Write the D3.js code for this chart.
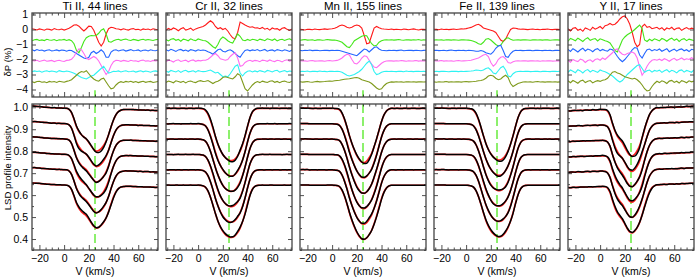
<!DOCTYPE html>
<html>
<head>
<meta charset="utf-8">
<script src="https://cdn.jsdelivr.net/npm/d3@7"></script>
<style>
  body { margin: 0; background: #fff; }
  text { font-family: "Liberation Sans", Arial, sans-serif; fill: #000; }
</style>
</head>
<body>
<svg id="chart" width="695" height="277"></svg>
<script>
// velocity grid (km/s) shared by every curve
var velocity = d3.range(-26, 77, 2);

var panelTitles = ["Ti II, 44 lines", "Cr II, 32 lines", "Mn II, 155 lines", "Fe II, 139 lines", "Y II, 17 lines"];
var phaseColors = ["#ff1a1a", "#44e61a", "#2466ff", "#ff6ef0", "#2ef2f2", "#7f9a1c"];
var dpOffsets = [0, -0.7, -1.4, -2.1, -2.8, -3.5];
var profileOffsets = [0, -0.07, -0.14, -0.21, -0.28, -0.35];
var dpTicks = [1, 0, -1, -2, -3, -4];
var intensityTicks = [0.4, 0.5, 0.6, 0.7, 0.8, 0.9, 1.0];
var velocityTicks = [-20, 0, 20, 40, 60];
var vCentre = 25;

// mean LSD profiles
var tiProfile = [1.005,1.005,1.004,1.003,1.002,1.001,1.0,0.999,0.998,0.998,0.997,0.997,0.996,0.996,0.995,0.990,
  0.975,0.945,0.912,0.89,0.875,0.865,0.855,0.84,0.823,0.808,0.80,0.803,0.812,0.826,0.846,0.875,0.91,0.942,0.966,0.98,0.987,
  0.989,0.99,0.99,0.99,0.989,0.989,0.988,0.988,0.987,0.987,0.987,0.986,0.986,0.985,0.985];
var crProfile = [0.995,0.995,0.995,0.995,0.995,0.995,0.995,0.995,0.995,0.995,0.995,0.995,0.995,0.995,0.994,0.992,
  0.985,0.968,0.94,0.905,0.866,0.832,0.805,0.785,0.771,0.762,0.757,0.758,0.765,0.779,0.8,0.83,0.868,0.912,0.952,0.978,0.99,
  0.994,0.995,0.995,0.995,0.995,0.995,0.995,0.995,0.995,0.995,0.995,0.995,0.995,0.995,0.995];
var mnProfile = [0.996,0.996,0.996,0.996,0.995,0.995,0.995,0.995,0.995,0.995,0.995,0.995,0.995,0.995,0.994,0.993,
  0.988,0.972,0.945,0.91,0.87,0.835,0.805,0.78,0.762,0.75,0.748,0.755,0.77,0.79,0.82,0.855,0.895,0.935,0.965,0.983,0.992,
  0.995,0.995,0.995,0.995,0.995,0.995,0.995,0.995,0.995,0.995,0.995,0.995,0.995,0.995,0.995];
var feProfile = [0.996,0.996,0.996,0.996,0.996,0.995,0.995,0.995,0.995,0.995,0.995,0.995,0.995,0.995,0.994,0.992,
  0.986,0.97,0.943,0.908,0.87,0.835,0.808,0.788,0.774,0.765,0.76,0.761,0.768,0.782,0.803,0.833,0.87,0.913,0.952,0.978,0.99,
  0.994,0.995,0.995,0.995,0.995,0.995,0.995,0.995,0.995,0.995,0.995,0.995,0.995,0.995,0.995];
var yProfile = [0.984,0.984,0.985,0.985,0.986,0.986,0.986,0.987,0.987,0.987,0.988,0.988,0.988,0.989,0.989,0.988,
  0.982,0.962,0.925,0.892,0.868,0.852,0.838,0.818,0.797,0.782,0.778,0.786,0.802,0.826,0.86,0.9,0.937,0.966,0.984,0.993,0.997,
  0.998,0.998,0.999,0.999,1.0,1.0,1.0,1.001,1.001,1.002,1.002,1.003,1.003,1.004,1.004];

// profile deviations dP (%) per phase, before stacking offsets
var tiDP = [
  [0.05,0.02,-0.03,0.04,0,-0.05,0.03,0.01,-0.04,0.06,0,-0.02,0.03,-0.04,0.02,0.08,
   0.18,0.3,0.32,0.22,0.05,-0.1,0.05,0.22,0.2,-0.05,-0.45,-0.85,-1.1,-0.85,-0.3,0.05,0.15,0.12,0.05,
   0.03,-0.02,0.05,0,-0.04,0.03,0.06,-0.01,0.02,-0.05,0.04,0,0.03,-0.03,0.05,0.02,0],
  [-0.05,0.02,0.04,-0.03,0.01,-0.04,0.05,0,-0.02,0.03,-0.05,0.02,0,0.04,-0.03,0.02,
   -0.05,-0.25,-0.7,-0.85,-0.5,-0.1,0.15,0.25,0.3,0.28,0.3,0.45,0.65,0.75,0.4,-0.1,-0.15,-0.05,0.02,
   0.05,-0.02,0.03,0.06,0,-0.03,0.04,0.01,-0.04,0.02,0.05,-0.01,0.03,0,-0.03,0.02,0.04],
  [0.05,-0.02,0.06,0,0.03,-0.04,0.02,0.05,-0.03,0,0.04,-0.02,0.03,0.01,-0.05,0.02,
   0,-0.1,-0.2,-0.3,-0.4,-0.5,-0.55,-0.45,-0.15,-0.05,-0.2,-0.1,0.05,-0.1,-0.45,-0.45,-0.1,0.02,0.05,
   -0.03,0.02,0.05,-0.04,0.01,0.06,-0.02,0,0.04,-0.05,0.02,0.03,-0.03,0.05,0,-0.02,0.03],
  [0.03,0,0.05,-0.03,0.02,0.06,-0.02,0.01,0.04,-0.04,0.02,0.05,0,-0.03,0.04,0.06,
   0.12,0.3,0.6,0.8,0.75,0.5,0.2,0.1,0.2,0.3,0.2,0,-0.3,-0.6,-0.9,-0.7,-0.3,-0.05,0.05,
   0.03,-0.02,0.04,0.01,-0.03,0.05,0,0.02,-0.04,0.03,0.06,-0.01,0.02,-0.03,0.04,0,0.03],
  [-0.02,0.04,0,0.03,-0.05,0.02,0.05,-0.01,0.03,0,-0.04,0.06,0.01,-0.02,0.03,0,
   -0.05,-0.12,-0.2,-0.3,-0.4,-0.45,-0.5,-0.4,-0.3,-0.25,-0.1,0.05,0.2,0.35,0.1,-0.1,-0.05,0.02,0,
   0.04,-0.03,0.02,0.05,-0.02,0,0.03,-0.04,0.01,0.05,-0.02,0.03,0,-0.05,0.02,0.04,-0.01],
  [0.02,-0.04,0.03,0.05,-0.02,0.01,-0.05,0.04,0,0.03,-0.03,0.05,0.02,-0.02,0.04,0.08,
   0.15,0.3,0.45,0.6,0.7,0.65,0.75,0.55,0.35,0.2,0.1,0.05,0.2,0.25,0,-0.25,-0.45,-0.4,-0.2,
   -0.05,0.02,-0.03,0.04,0,0.05,-0.02,0.03,-0.04,0.01,0.05,-0.02,0.02,0.04,-0.03,0,0.03]
];
var crDP = [
  [-0.05,0.08,-0.02,0.1,0.03,-0.08,0.05,0.12,-0.04,0.02,0.09,-0.06,0.04,0.1,0.15,0.2,
   0.3,0.45,0.58,0.45,0.2,0.05,0.12,0,0.08,-0.1,-0.35,-0.55,-0.62,-0.2,0.5,0.4,0.3,0.22,0.15,0.18,0.1,
   0.12,0.05,0.14,0.02,0.08,-0.04,0.1,0.03,0.06,-0.05,0.08,0.12,0.01,-0.06,0.04],
  [0.03,-0.06,0.05,0.09,-0.02,0.04,-0.08,0.06,0.02,-0.05,0.08,0,-0.04,0.07,0.02,-0.03,
   -0.05,-0.15,-0.3,-0.45,-0.55,-0.3,0.05,0.2,0.1,-0.05,-0.15,-0.2,0.1,0.4,0.25,0,-0.05,0.04,-0.03,0.05,0.02,
   -0.04,0.06,0.01,-0.05,0.08,0.03,-0.02,0.07,-0.06,0.02,0.05,-0.03,0.04,0.08,-0.01],
  [0.05,-0.03,0.08,0.01,-0.06,0.04,0.07,-0.02,0.03,-0.05,0.06,0.02,-0.04,0.05,0,0.03,
   0,-0.08,-0.15,-0.25,-0.1,0.05,0.1,-0.05,-0.1,0,0.05,-0.05,-0.2,-0.35,-0.45,-0.2,0,0.05,-0.02,0.04,0,
   0.06,-0.03,0.02,0.07,-0.05,0.01,0.04,-0.04,0.06,0.02,-0.03,0.05,0,-0.06,0.03],
  [-0.04,0.05,0.02,-0.07,0.04,0.08,-0.03,0.02,0.06,-0.05,0.03,0.07,-0.02,0.04,0.01,0.05,
   0.05,0.12,0.25,0.4,0.5,0.35,0.15,0.1,0.05,0.1,0.3,0.45,0.55,0.2,-0.35,-0.3,-0.1,0,0.05,-0.02,0.04,
   0.02,-0.05,0.06,0.03,-0.02,0.07,0,-0.04,0.05,0.02,-0.06,0.04,0.08,-0.01,0.03],
  [0.04,-0.05,0.07,0.02,-0.03,0.06,-0.06,0.03,0.08,-0.02,0.01,0.05,-0.04,0.06,0.02,-0.01,
   0,0.05,0.1,0,-0.1,-0.05,-0.2,-0.35,-0.3,-0.35,-0.15,0.1,0.35,0.45,-0.1,-0.3,-0.1,0.02,0.05,-0.03,0.04,
   -0.02,0.06,0.01,-0.05,0.07,0.03,-0.03,0.05,0.08,-0.04,0.02,0.06,-0.02,0.03,0.01],
  [-0.03,0.06,0.02,-0.05,0.08,0.03,-0.02,0.05,-0.06,0.04,0.07,0,-0.04,0.05,0.09,0.03,
   0.05,0.1,0,-0.1,0,0.05,0.15,0.3,0.35,0.3,0.25,0.2,0.35,0.55,0.45,0,-0.45,-0.6,-0.4,-0.2,-0.05,
   0.03,-0.04,0.06,0.01,-0.03,0.05,0.08,-0.02,0.04,-0.05,0.03,0.06,0,-0.03,0.05]
];
var mnDP = [
  [0.02,0,-0.03,0.02,0.01,-0.02,0.03,0,-0.01,0.02,0.04,0.01,0.03,0.05,0.08,0.15,
   0.25,0.3,0.25,0.15,0.1,0.15,0.25,0.3,0.25,0.1,-0.4,-0.95,-0.9,-0.4,0.1,0.2,0.12,0.05,0.03,0.02,0,
   0.03,-0.01,0.02,0,-0.02,0.03,0.01,-0.02,0.02,0.04,0,-0.03,0.01,0.02,0],
  [-0.02,0.01,0.03,-0.01,0,0.02,-0.03,0.01,0.02,-0.02,0,0.03,0.01,-0.01,0,-0.03,
   -0.08,-0.15,-0.3,-0.45,-0.5,-0.3,-0.05,0.05,0.15,0.25,0.3,0.28,0,-0.25,-0.4,-0.35,-0.15,-0.05,0,0.02,0,
   0.02,-0.01,0.01,0.03,0,-0.02,0.02,0.01,-0.01,0.02,0,0.03,-0.02,0.01,0],
  [0.01,-0.02,0.02,0,0.03,-0.01,0.01,0.02,-0.02,0,0.02,0.01,-0.01,0.02,0,0.01,
   0,-0.05,-0.1,-0.15,-0.2,-0.25,-0.3,-0.35,-0.2,-0.05,0.1,0.05,-0.1,0.05,0.2,0.25,0.1,0.02,0,-0.02,0.01,
   0,0.02,-0.01,0.01,0.03,-0.02,0,0.02,0.01,-0.01,0.02,0,-0.02,0.01,0.02],
  [0.02,0,0.01,-0.02,0.02,0.03,-0.01,0,0.02,0.01,-0.02,0.02,0.03,0,0.02,0.04,
   0.1,0.2,0.35,0.45,0.4,0.1,-0.15,-0.2,-0.05,0.2,0.35,0.3,0.05,-0.2,-0.4,-0.45,-0.3,-0.15,-0.05,0,0.02,
   0.01,-0.01,0.02,0,0.03,0.01,-0.02,0.02,0,0.01,0.03,-0.01,0.02,0,0.01],
  [-0.01,0.02,0,0.03,-0.02,0.01,0.02,-0.01,0.03,0,0.01,-0.02,0.02,0.01,0,0.02,
   0,-0.05,-0.15,-0.25,-0.3,-0.25,-0.2,-0.1,0,0.15,0.35,0.55,0.7,0.45,0,-0.2,-0.15,-0.05,0,0.02,0,
   0.02,0,-0.01,0.02,0.01,-0.02,0.03,0,0.01,-0.01,0.02,0.01,0,0.02,-0.01],
  [0.02,-0.01,0.01,0.03,0,-0.02,0.02,0.04,0.01,0.02,0.03,0.05,0.06,0.05,0.08,0.1,
   0.12,0.15,0.18,0.2,0.22,0.25,0.28,0.3,0.25,0.15,0.1,0.05,0,-0.1,-0.25,-0.4,-0.5,-0.45,-0.25,-0.1,-0.03,
   0.01,-0.01,0.02,0,0.01,-0.02,0.02,0.01,0,0.02,-0.01,0.01,0.02,0,0.01]
];
var feDP = [
  [0.02,0.01,-0.02,0.03,0,0.02,-0.01,0.01,0.03,0,0.02,0.04,0.03,0.06,0.1,0.14,
   0.22,0.3,0.35,0.25,0.1,0.05,0,-0.05,-0.1,-0.2,-0.45,-0.7,-0.8,-0.65,-0.3,0,0.1,0.08,0.04,0.02,0.03,
   0.01,-0.01,0.02,0.03,0,0.01,-0.02,0.02,0.01,0.03,0,-0.01,0.02,0.01,0],
  [-0.01,0.02,0,0.01,-0.02,0.02,0.01,-0.01,0.02,0,-0.02,0.01,0.02,0,-0.01,-0.03,
   -0.08,-0.15,-0.25,-0.3,-0.15,0.05,0.1,0,-0.15,-0.3,-0.4,-0.35,-0.1,0.1,0.15,0.05,-0.02,0,0.02,-0.01,0.01,
   0.02,0,-0.02,0.01,0.02,0,0.01,-0.01,0.02,0.01,-0.02,0,0.02,0.01,-0.01],
  [0.01,0.02,-0.01,0,0.02,-0.02,0.01,0.03,0,-0.01,0.02,0,0.01,-0.02,0.02,0,
   -0.02,-0.05,-0.05,0,-0.05,-0.15,-0.2,-0.25,-0.1,0.15,0.3,0.35,0,-0.4,-0.45,-0.2,-0.05,0.02,0,0.01,-0.01,
   0,0.02,0.01,-0.02,0.01,0.02,0,-0.01,0.02,0,0.01,-0.02,0.01,0.02,0],
  [0.02,0,0.01,0.03,-0.01,0.02,0,0.01,-0.02,0.02,0.03,0,0.01,0.02,0.03,0.05,
   0.1,0.15,0.2,0.3,0.4,0.45,0.3,-0.1,-0.35,-0.2,0.1,0.25,0.3,0.15,-0.1,-0.15,-0.05,0,0.02,0,0.01,
   0.02,-0.01,0.01,0.02,0,0.01,-0.02,0.02,0,0.01,0.02,-0.01,0,0.02,0.01],
  [0,0.02,-0.01,0.01,0.02,0,-0.02,0.01,0.02,0.01,-0.01,0.02,0,0.01,0.02,0.03,
   0.05,0.1,0.08,0.05,0.1,0.2,0.25,0.1,-0.1,-0.15,0.05,0.25,0.35,0.1,-0.3,-0.35,-0.15,-0.03,0,0.02,0,
   0.01,0.02,-0.01,0,0.02,0.01,-0.02,0.01,0.02,0,-0.01,0.02,0.01,0,0.02],
  [0.01,-0.02,0.02,0,0.01,0.03,-0.01,0.02,0,0.01,0.02,-0.01,0.02,0.03,0.01,0.02,
   0.03,0.05,0.08,0.1,0.15,0.25,0.4,0.45,0.4,0.25,0.15,0.2,0.35,0.45,0.3,-0.1,-0.3,-0.2,-0.1,-0.05,0,
   0.02,0,0.01,-0.02,0.02,0.03,0,0.01,-0.01,0.02,0.01,0,0.02,-0.01,0.01]
];
var yDP = [
  [0.05,-0.1,0.08,0.12,-0.05,0.02,-0.12,0.1,0.04,-0.06,0.15,0.02,0.1,0.2,0.05,0.25,
   0.3,0.4,0.3,0.35,0.5,0.7,0.85,0.9,0.7,0.35,-0.2,-0.85,-1.15,-1.0,0.2,0.35,0.15,0.2,0.05,0.1,0.15,
   0.02,0.12,-0.05,0.1,0.04,0.15,-0.02,0.08,0.11,-0.06,0.05,0.13,0.02,0.09,0.04],
  [-0.08,0.1,0.03,-0.05,0.12,0.02,-0.1,0.06,0.15,-0.02,0.05,0.1,-0.06,0.08,0.02,-0.05,
   -0.1,-0.2,-0.45,-0.7,-0.8,-0.4,0,0.2,0.35,0.45,0.55,0.7,0.85,1.0,0.75,0,-0.1,0.05,-0.05,0.08,0.02,
   -0.06,0.1,0.03,-0.08,0.05,0.12,-0.02,0.07,-0.1,0.04,0.09,-0.04,0.06,0.01,-0.05],
  [0.08,-0.06,0.12,0.02,-0.1,0.05,0.15,-0.03,0.1,0.04,-0.08,0.06,0.12,-0.02,0.07,0,
   -0.05,0.1,0.05,-0.15,-0.4,-0.6,-0.75,-0.6,-0.4,-0.2,0.05,0.2,0.15,-0.3,-0.5,-0.2,0.05,0.1,-0.03,0.06,0,
   0.1,-0.05,0.04,0.12,-0.08,0.02,0.09,-0.04,0.06,0.11,-0.02,0.05,-0.07,0.08,0.03],
  [0.05,-0.08,0.1,0.02,-0.04,0.12,0.06,-0.1,0.03,0.08,-0.05,0.1,0.15,0.05,0.2,0.1,
   0.25,0.4,0.55,0.75,0.8,0.6,0.45,0.4,0.5,0.55,0.6,0.5,0.2,-0.4,-0.95,-0.7,-0.35,-0.1,0.05,0.1,0.05,
   0.12,0.03,0.15,0.08,-0.02,0.1,0.18,0.05,0.12,0.2,0.08,0.15,0.1,0.22,0.12],
  [-0.05,0.1,0.02,-0.08,0.12,0.04,-0.1,0.06,0.13,-0.03,0.08,0.02,-0.06,0.1,0.03,-0.02,
   -0.1,-0.2,-0.3,-0.45,-0.6,-0.7,-0.6,-0.4,-0.2,-0.05,0.1,0.25,0.4,0.45,0.2,-0.05,0.05,0.1,-0.04,0.07,0.02,
   0.09,-0.06,0.05,0.12,-0.03,0.08,0.01,-0.09,0.06,0.11,-0.04,0.07,0.02,-0.05,0.1],
  [0.08,-0.05,0.1,0.02,-0.08,0.06,0.12,-0.04,0.05,0.1,-0.06,0.03,0.09,0.04,0.12,0.15,
   0.25,0.45,0.65,0.7,0.6,0.55,0.45,0.35,0.3,0.25,0.2,0.25,0.15,0,-0.2,-0.45,-0.6,-0.55,-0.3,-0.1,0.05,
   -0.04,0.08,0.02,-0.1,0.06,0.11,-0.03,0.05,-0.07,0.09,0.03,-0.05,0.08,0.01,0.06]
];

var panelProfiles = [tiProfile, crProfile, mnProfile, feProfile, yProfile];
var panelDP = [tiDP, crDP, mnDP, feDP, yDP];

// layout
var svg = d3.select("#chart");
var panelW = 126, panelStep = 134, firstLeft = 32;
var topBox = [13, 97], botBox = [104, 250];

var yTop = d3.scaleLinear().domain([-4.5, 1.1]).range([topBox[1], topBox[0]]);
var yBot = d3.scaleLinear().domain([0.35, 1.015]).range([botBox[1], botBox[0]]);

function inwardAxes(g, x, y, box, yMajor, yMinor, labelY, labelX, yFmt) {
  var minorX = d3.range(-25, 76, 5).filter(function(v) { return v % 20 !== 0; });
  g.append("g").attr("transform", "translate(0," + box[1] + ")")
    .call(d3.axisBottom(x).tickValues(velocityTicks).tickSize(-5).tickPadding(5)
      .tickFormat(labelX ? d3.format("d") : ""));
  g.append("g").attr("transform", "translate(0," + box[1] + ")")
    .call(d3.axisBottom(x).tickValues(minorX).tickSize(-2.5).tickFormat(""));
  g.append("g").attr("transform", "translate(0," + box[0] + ")")
    .call(d3.axisTop(x).tickValues(velocityTicks).tickSize(-5).tickFormat(""));
  g.append("g").attr("transform", "translate(0," + box[0] + ")")
    .call(d3.axisTop(x).tickValues(minorX).tickSize(-2.5).tickFormat(""));
  var x0 = x.range()[0], x1 = x.range()[1];
  g.append("g").attr("transform", "translate(" + x0 + ",0)")
    .call(d3.axisLeft(y).tickValues(yMajor).tickSize(-4).tickPadding(4)
      .tickFormat(labelY ? yFmt : ""));
  g.append("g").attr("transform", "translate(" + x1 + ",0)")
    .call(d3.axisRight(y).tickValues(yMajor).tickSize(-4).tickFormat(""));
  if (yMinor) {
    g.append("g").attr("transform", "translate(" + x0 + ",0)")
      .call(d3.axisLeft(y).tickValues(yMinor).tickSize(-2).tickFormat(""));
    g.append("g").attr("transform", "translate(" + x1 + ",0)")
      .call(d3.axisRight(y).tickValues(yMinor).tickSize(-2).tickFormat(""));
  }
  g.selectAll(".domain").remove();
  g.selectAll(".tick line").attr("stroke", "#222").attr("stroke-width", 0.8);
  g.selectAll(".tick text").attr("font-size", 10.5).attr("font-family", "Liberation Sans, Arial, sans-serif").attr("fill", "#000");
  g.append("rect").attr("x", x0).attr("y", box[0]).attr("width", x1 - x0).attr("height", box[1] - box[0])
    .attr("fill", "none").attr("stroke", "#444").attr("stroke-width", 1.3);
}

var intensityMinor = d3.range(0.35, 1.011, 0.05).filter(function(v) {
  return Math.abs(v * 10 - Math.round(v * 10)) > 0.01;
});

panelTitles.forEach(function(title, p) {
  var left = firstLeft + p * panelStep;
  var x = d3.scaleLinear().domain([-26, 76]).range([left, left + panelW]);
  var g = svg.append("g").attr("class", "panel");
  var prof = panelProfiles[p];
  var dps = panelDP[p];

  var clipId = "clip" + p;
  var cp = svg.append("clipPath").attr("id", clipId);
  cp.append("rect").attr("x", left).attr("y", topBox[0]).attr("width", panelW).attr("height", topBox[1] - topBox[0]);
  cp.append("rect").attr("x", left).attr("y", botBox[0]).attr("width", panelW).attr("height", botBox[1] - botBox[0]);
  var plot = g.append("g").attr("clip-path", "url(#" + clipId + ")");

  // green dashed centre-of-mass velocity, short stub in the dP box too
  plot.append("line")
    .attr("x1", x(vCentre)).attr("x2", x(vCentre))
    .attr("y1", yTop(-4.5)).attr("y2", yTop(-4.05))
    .attr("stroke", "#8cf06c").attr("stroke-width", 2);
  plot.append("line")
    .attr("x1", x(vCentre)).attr("x2", x(vCentre))
    .attr("y1", botBox[0]).attr("y2", botBox[1])
    .attr("stroke", "#8cf06c").attr("stroke-width", 2)
    .attr("stroke-dasharray", "9,4");

  // dP curves
  var dpLine = d3.line().x(function(d, i) { return x(velocity[i]); }).y(function(d) { return yTop(d); });
  dps.forEach(function(dev, k) {
    plot.append("path")
      .datum(dev.map(function(d) { return d + dpOffsets[k]; }))
      .attr("d", dpLine)
      .attr("fill", "none")
      .attr("stroke", phaseColors[k])
      .attr("stroke-width", 1.1);
  });

  // profiles: red mean, black observed
  var prLine = d3.line().x(function(d, i) { return x(velocity[i]); }).y(function(d) { return yBot(d); })
    .curve(d3.curveMonotoneX);
  profileOffsets.forEach(function(off, k) {
    plot.append("path")
      .datum(prof.map(function(d) { return d + off; }))
      .attr("d", prLine)
      .attr("fill", "none").attr("stroke", "#ff2020").attr("stroke-width", 1.7);
    plot.append("path")
      .datum(prof.map(function(d, i) { return d + off + dps[k][i] / 100; }))
      .attr("d", prLine)
      .attr("fill", "none").attr("stroke", "#000").attr("stroke-width", 1.5);
  });

  inwardAxes(g, x, yTop, topBox, dpTicks, null, p === 0, false, d3.format("d"));
  inwardAxes(g, x, yBot, botBox, intensityTicks, intensityMinor, p === 0, true, d3.format(".1f"));

  g.append("text")
    .attr("x", left + panelW / 2).attr("y", 10)
    .attr("text-anchor", "middle").attr("font-size", 11.5)
    .text(title);
  g.append("text")
    .attr("x", left + panelW / 2).attr("y", 275)
    .attr("text-anchor", "middle").attr("font-size", 10.5)
    .text("V (km/s)");
});

svg.append("text")
  .attr("transform", "translate(11,62) rotate(-90)")
  .attr("text-anchor", "middle").attr("font-size", 9.5)
  .text("δP (%)");
svg.append("text")
  .attr("transform", "translate(11,168) rotate(-90)")
  .attr("text-anchor", "middle").attr("font-size", 9.5)
  .text("LSD profile intensity");
</script>
</body>
</html>
